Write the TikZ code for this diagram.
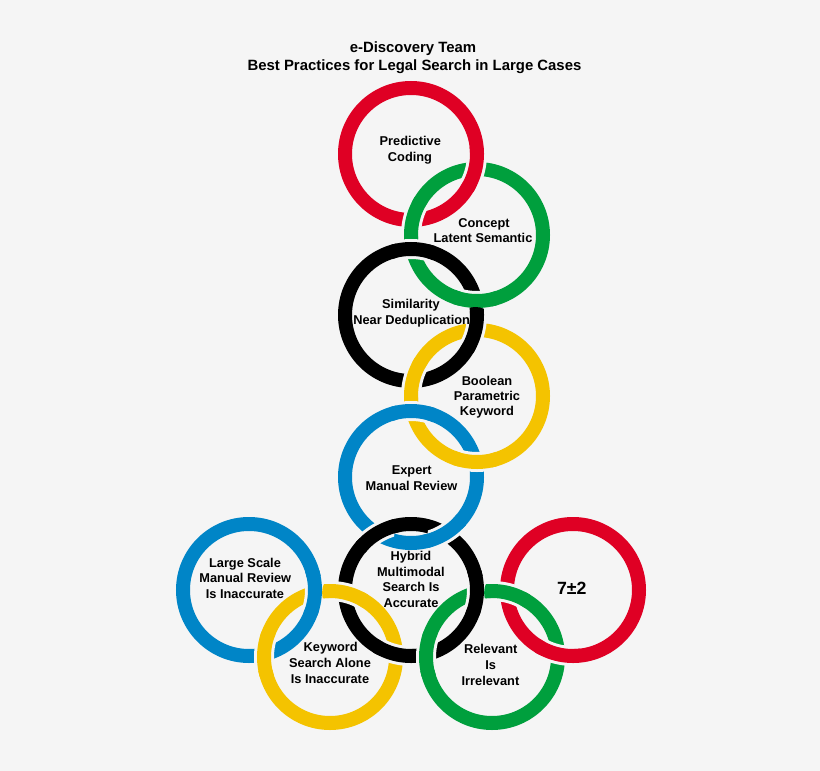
\documentclass[tikz,border=0pt]{standalone}
\usepackage{fontspec}
\setmainfont{Liberation Sans}
\definecolor{bgc}{RGB}{245,245,245}
\definecolor{ored}{RGB}{223,0,36}
\definecolor{ogreen}{RGB}{0,159,61}
\definecolor{oblue}{RGB}{0,133,199}
\definecolor{oyellow}{RGB}{244,195,0}
\definecolor{oblack}{RGB}{0,0,0}
\tikzset{
  ringline/.style={line width=14pt},
  gapline/.style={draw=bgc,line width=20pt},
  lbl/.style={font=\bfseries\fontsize{12.8}{15.5}\selectfont, anchor=base, inner sep=0pt, text=black},
  ttl/.style={font=\bfseries\fontsize{14.9}{17.4}\selectfont, anchor=base, inner sep=0pt, text=black},
  big/.style={font=\bfseries\fontsize{17.7}{20}\selectfont, anchor=base, inner sep=0pt, text=black}
}
\newcommand\overring[3]{%
  \begin{scope}
    \clip (#3) circle (17.5pt);
    \draw[gapline] (#1) circle (66pt);
  \end{scope}
  \begin{scope}
    \clip (#3) circle (23pt);
    \draw[ringline,#2] (#1) circle (66pt);
  \end{scope}}
\begin{document}
\begin{tikzpicture}[x=1pt,y=-1pt]
\fill[bgc] (0,0) rectangle (820,771);
\useasboundingbox (0,0) rectangle (820,771);
% ring centres
\coordinate (R1) at (411,154);
\coordinate (G1) at (477,235);
\coordinate (K1) at (411,315);
\coordinate (Y1) at (477,396);
\coordinate (B1) at (411,477);
\coordinate (B2) at (249,590);
\coordinate (K2) at (411,590);
\coordinate (R2) at (573,590);
\coordinate (Y2) at (330,657);
\coordinate (G2) at (492,657);
% full rings
\draw[ringline,ored] (R1) circle (66pt);
\draw[ringline,ogreen] (G1) circle (66pt);
\draw[ringline,oblack] (K1) circle (66pt);
\draw[ringline,oyellow] (Y1) circle (66pt);
\draw[ringline,oblue] (B1) circle (66pt);
\draw[ringline,oblue] (B2) circle (66pt);
\draw[ringline,oblack] (K2) circle (66pt);
\draw[ringline,ored] (R2) circle (66pt);
\draw[ringline,oyellow] (Y2) circle (66pt);
\draw[ringline,ogreen] (G2) circle (66pt);
% crossing points
\coordinate (x1) at (475.3,169);
\coordinate (x2) at (412.7,220);
\coordinate (x3) at (412.5,249);
\coordinate (x4) at (475.5,301);
\coordinate (x5) at (475.3,330);
\coordinate (x6) at (412.7,381);
\coordinate (x7) at (412.7,411);
\coordinate (x8) at (475.3,462);
\coordinate (x9) at (376.9,533.5);
\coordinate (x10) at (445.1,533.5);
\coordinate (x11) at (314.9,592.7);
\coordinate (x12) at (264.1,654.3);
\coordinate (x13) at (345.1,592.7);
\coordinate (x14) at (395.9,654.3);
\coordinate (x15) at (476.9,592.7);
\coordinate (x16) at (426.1,654.3);
\coordinate (x17) at (507.1,592.7);
\coordinate (x18) at (557.9,654.3);
% over-crossings
\overring{R1}{ored}{x1}
\overring{G1}{ogreen}{x2}
\overring{K1}{oblack}{x3}
\overring{G1}{ogreen}{x4}
\overring{K1}{oblack}{x5}
\overring{Y1}{oyellow}{x6}
\overring{B1}{oblue}{x7}
\overring{Y1}{oyellow}{x8}
\overring{K2}{oblack}{x9}
\overring{B1}{oblue}{x10}
\overring{B2}{oblue}{x11}
\overring{Y2}{oyellow}{x12}
\overring{Y2}{oyellow}{x13}
\overring{K2}{oblack}{x14}
\overring{K2}{oblack}{x15}
\overring{G2}{ogreen}{x16}
\overring{G2}{ogreen}{x17}
\overring{R2}{ored}{x18}
% title
\node[ttl] (t1) at (413,52.7) {e-Discovery Team};
\node[ttl] (t2) at (414.5,70) {Best Practices for Legal Search in Large Cases};
% labels
\node[lbl] (a1) at (410.3,145.7) {Predictive};
\node[lbl] (a2) at (410,161) {Coding};
\node[lbl] (b1) at (484,227.3) {Concept};
\node[lbl] (b2) at (483,242.5) {Latent Semantic};
\node[lbl] (c1) at (411,308.3) {Similarity};
\node[lbl] (c2) at (411.7,324) {Near Deduplication};
\node[lbl] (d1) at (487,385) {Boolean};
\node[lbl] (d2) at (487,400.5) {Parametric};
\node[lbl] (d3) at (487,415.8) {Keyword};
\node[lbl] (e1) at (411.7,474.3) {Expert};
\node[lbl] (e2) at (411.5,490) {Manual Review};
\node[lbl] (f1) at (411,560.7) {Hybrid};
\node[lbl] (f2) at (410.8,576) {Multimodal};
\node[lbl] (f3) at (411,591.7) {Search Is};
\node[lbl] (f4) at (411,607.3) {Accurate};
\node[lbl] (g1) at (245,567.3) {Large Scale};
\node[lbl] (g2) at (245.3,582.7) {Manual Review};
\node[lbl] (g3) at (245,598.3) {Is Inaccurate};
\node[lbl] (h1) at (330.7,651.7) {Keyword};
\node[lbl] (h2) at (330,667.5) {Search Alone};
\node[lbl] (h3) at (330,683.3) {Is Inaccurate};
\node[big] (k1) at (571.7,594) {7±2};
\node[lbl] (m1) at (490.7,653.3) {Relevant};
\node[lbl] (m2) at (490.7,669.3) {Is};
\node[lbl] (m3) at (490.5,685) {Irrelevant};
\end{tikzpicture}
\end{document}
